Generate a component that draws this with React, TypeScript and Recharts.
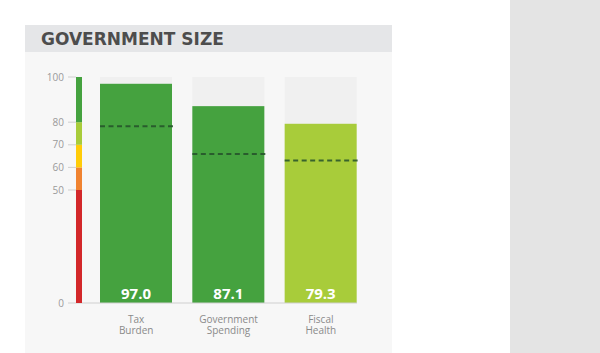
import React from 'react'
import { BarChart, Bar, XAxis, YAxis } from 'recharts'

// Index of Economic Freedom style panel: Government Size
const categories = ['Tax Burden', 'Government Spending', 'Fiscal Health']
const scores = [97.0, 87.1, 79.3]
const averages = [78.2, 65.9, 63.1] // dashed marker (world average)

// colour scale at the left of the plot
const scaleTicks = [0, 50, 60, 70, 80, 100]
const scaleColors = ['#d3282a', '#f08330', '#ffcc08', '#a8cc3a', '#45a23f']

const data = categories.map((name, i) => ({
  name,
  score: scores[i],
  avg: averages[i],
}))

// one stacked column, one segment per colour band
const scaleRow: Record<string, number | string> = { name: 'scale' }
scaleColors.forEach((_, i) => {
  scaleRow['s' + i] = scaleTicks[i + 1] - scaleTicks[i]
})
const scaleData = [scaleRow]

const PLOT_TOP = 77
const PLOT_BOTTOM_MARGIN = 50
const AXIS_W = 76

function colorFor(v: number) {
  for (let i = scaleTicks.length - 2; i >= 0; i--) {
    if (v >= scaleTicks[i]) return scaleColors[i]
  }
  return scaleColors[0]
}

function ScoreBar(props: any) {
  const { x, y, width, height, payload } = props
  const base = y + height
  const pxPer = height / payload.score
  const avgY = base - payload.avg * pxPer
  return (
    <g>
      <rect x={x} y={y} width={width} height={height} fill={colorFor(payload.score)} />
      <line
        x1={x}
        x2={x + width + 1}
        y1={avgY}
        y2={avgY}
        stroke="#24502a"
        strokeOpacity={0.85}
        strokeWidth={2}
        strokeDasharray="5 3.5"
      />
      <text
        x={x + width / 2}
        y={base - 4}
        textAnchor="middle"
        fill="#fff"
        fontSize={15}
        fontWeight={700}
        fontFamily="'Open Sans', sans-serif"
      >
        {payload.score.toFixed(1)}
      </text>
    </g>
  )
}

function CategoryTick({ x, y, payload }: any) {
  const words = String(payload.value).split(' ')
  return (
    <g>
      {words.map((w, i) => (
        <text
          key={i}
          x={x}
          y={y + 12 + i * 11}
          textAnchor="middle"
          fill="#8a8a8a"
          fontSize={10}
          fontFamily="'Open Sans', sans-serif"
        >
          {w}
        </text>
      ))}
    </g>
  )
}

export default function App() {
  return (
    <div style={{ position: 'absolute', left: 0, top: 0, width: 600, height: 353, background: '#fff', overflow: 'hidden' }}>
      <div style={{ position: 'absolute', left: 510, top: 0, width: 90, height: 353, background: '#e4e4e4' }} />
      <div style={{ position: 'absolute', left: 25, top: 52, width: 367, height: 301, background: '#f7f7f7' }} />
      <div
        style={{
          position: 'absolute',
          left: 25,
          top: 25,
          width: 367,
          height: 27,
          background: '#e5e6e8',
        }}
      >
        <div
          style={{
            position: 'absolute',
            left: 16,
            top: 3,
            fontFamily: "'DejaVu Sans', sans-serif",
            fontWeight: 700,
            fontSize: 17,
            lineHeight: '22px',
            color: '#4d4d4d',
          }}
        >
          GOVERNMENT SIZE
        </div>
      </div>
      <div style={{ position: 'absolute', left: 0, top: 0 }}>
        <BarChart
          width={400}
          height={353}
          data={data}
          margin={{ top: PLOT_TOP, right: 43, bottom: 0, left: 0 }}
        >
          <XAxis
            dataKey="name"
            axisLine={{ stroke: '#cfcfcf' }}
            tickLine={false}
            height={PLOT_BOTTOM_MARGIN}
            padding={{ left: 14, right: -10 }}
            tick={<CategoryTick />}
            interval={0}
          />
          <YAxis
            width={AXIS_W}
            domain={[0, 100]}
            ticks={scaleTicks}
            interval={0}
            axisLine={false}
            tickSize={8}
            tickMargin={4}
            tickLine={{ stroke: '#cfcfcf' }}
            tick={{ fill: '#9a9a9a', fontSize: 10, fontFamily: "'Open Sans', sans-serif" }}
          />
          <Bar
            dataKey="score"
            barSize={72}
            background={{ fill: '#f0f0f0' }}
            shape={<ScoreBar />}
            isAnimationActive={false}
          />
        </BarChart>
      </div>
      <div style={{ position: 'absolute', left: 0, top: 0 }}>
        <BarChart
          width={AXIS_W + 6}
          height={353}
          data={scaleData}
          barCategoryGap={0}
          margin={{ top: PLOT_TOP, right: 0, bottom: PLOT_BOTTOM_MARGIN, left: AXIS_W }}
        >
          <XAxis dataKey="name" hide />
          <YAxis domain={[0, 100]} hide />
          {scaleColors.map((c, i) => (
            <Bar key={i} dataKey={'s' + i} stackId="scale" fill={c} isAnimationActive={false} />
          ))}
        </BarChart>
      </div>
    </div>
  )
}
